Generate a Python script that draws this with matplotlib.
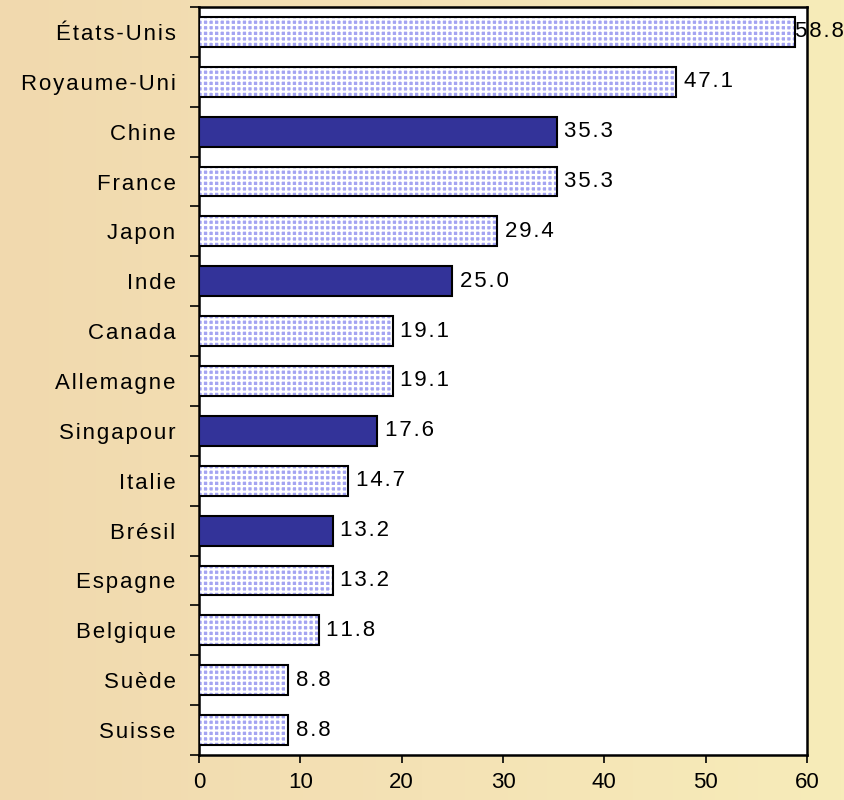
import numpy as np
import matplotlib
matplotlib.use("Agg")
import matplotlib.pyplot as plt
from matplotlib.colors import LinearSegmentedColormap

countries = ["États-Unis", "Royaume-Uni", "Chine", "France", "Japon", "Inde", "Canada",
             "Allemagne", "Singapour", "Italie", "Brésil", "Espagne", "Belgique", "Suède", "Suisse"]
values = [58.8, 47.1, 35.3, 35.3, 29.4, 25.0, 19.1, 19.1, 17.6, 14.7, 13.2, 13.2, 11.8, 8.8, 8.8]
emerging = ["Chine", "Inde", "Singapour", "Brésil"]
xticks = [0, 10, 20, 30, 40, 50, 60]

plt.rcParams['font.family'] = ['Liberation Sans', 'DejaVu Sans']
plt.rcParams['hatch.linewidth'] = 1.6

HS = '\u200a'  # hair space for letter spacing


def spaced(s):
    return HS.join(s)


FS = 16

fig = plt.figure(figsize=(8.44, 8.0), dpi=100)
bg = fig.add_axes([0, 0, 1, 1], zorder=-10)
bg.axis('off')
cmap = LinearSegmentedColormap.from_list('bg', ['#F1D9AE', '#F4E2B5', '#F7ECB9'])
grad = np.linspace(0, 1, 256).reshape(1, -1)
bg.imshow(grad, aspect='auto', cmap=cmap, extent=[0, 1, 0, 1])

ax = fig.add_axes([0.2358, 0.05625, 0.7204, 0.935])
ax.set_facecolor('white')

y = np.arange(len(countries))
for i, (c, v) in enumerate(zip(countries, values)):
    if c in emerging:
        ax.barh(i, v, height=0.6, color='#333399', edgecolor='black', linewidth=1.5, zorder=3)
    else:
        ax.barh(i, v, height=0.6, color='#A4A4F2', edgecolor='white', hatch='+++', linewidth=0, zorder=3)
        ax.barh(i, v, height=0.6, fill=False, edgecolor='black', linewidth=1.5, zorder=4)
    off = 0.0 if v > 55 else 5.5
    ax.annotate(spaced(f"{v:.1f}"), xy=(v, i), xytext=(off, 0), textcoords='offset points',
                ha='left', va='center', fontsize=FS, color='black', zorder=5)

ax.set_xlim(0, 60)
ax.set_ylim(len(countries) - 0.5, -0.5)
ax.set_xticks(xticks)
ax.set_xticklabels([str(t) for t in xticks], fontsize=FS)
ax.set_yticks(y)
ax.set_yticklabels([spaced(c) for c in countries], fontsize=FS)
ax.set_yticks(np.arange(len(countries) + 1) - 0.5, minor=True)
ax.tick_params(axis='y', which='major', length=0, pad=17)
ax.tick_params(axis='y', which='minor', length=6.5, width=1.2, direction='out')
ax.tick_params(axis='x', length=6, width=1.2, direction='out', pad=6)
for s in ax.spines.values():
    s.set_linewidth(1.8)
    s.set_color('black')

fig.savefig("out.png", dpi=100, facecolor=fig.get_facecolor())
